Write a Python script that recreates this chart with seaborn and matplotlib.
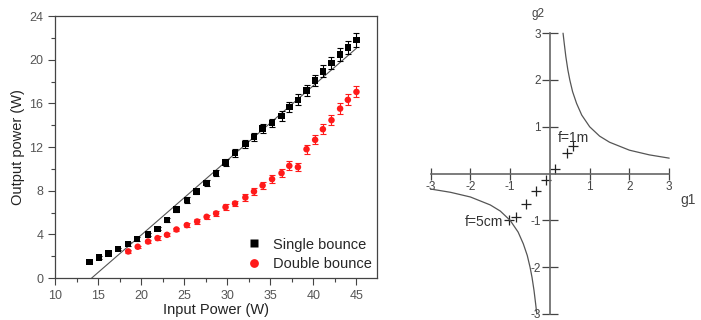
import numpy as np
import pandas as pd
import matplotlib
matplotlib.use('Agg')
import matplotlib.pyplot as plt
import seaborn as sns

# ---- left panel data: output power vs input power ----
single_x = [14.0, 15.1, 16.2, 17.3, 18.5, 19.5, 20.8, 21.9, 23.0, 24.1, 25.3, 26.4, 27.6, 28.7, 29.8,
            30.9, 32.1, 33.1, 34.1, 35.2, 36.3, 37.2, 38.2, 39.2, 40.2, 41.1, 42.1, 43.1, 44.0, 45.0]
single_y = [1.46, 1.89, 2.23, 2.65, 3.11, 3.57, 4.0, 4.51, 5.31, 6.28, 7.14, 7.93, 8.72, 9.61, 10.58,
            11.47, 12.29, 12.93, 13.69, 14.21, 14.85, 15.65, 16.32, 17.2, 18.08, 18.94, 19.7, 20.49, 21.1, 21.8]
single_err = [0.1, 0.1, 0.1, 0.1, 0.15, 0.15, 0.15, 0.15, 0.2, 0.2, 0.25, 0.25, 0.3, 0.3, 0.3,
              0.35, 0.35, 0.4, 0.4, 0.4, 0.45, 0.45, 0.5, 0.5, 0.5, 0.55, 0.55, 0.6, 0.6, 0.6]

double_x = [18.5, 19.6, 20.8, 21.9, 23.0, 24.1, 25.3, 26.5, 27.6, 28.7, 29.8, 30.9, 32.1, 33.1,
            34.1, 35.2, 36.3, 37.2, 38.2, 39.2, 40.2, 41.1, 42.1, 43.1, 44.0, 45.0]
double_y = [2.44, 2.87, 3.35, 3.66, 3.96, 4.45, 4.85, 5.18, 5.61, 5.92, 6.5, 6.83, 7.38, 7.93,
            8.48, 9.06, 9.61, 10.28, 10.16, 11.8, 12.66, 13.63, 14.46, 15.52, 16.32, 17.05]
double_err = [0.1, 0.1, 0.15, 0.15, 0.15, 0.15, 0.2, 0.2, 0.2, 0.25, 0.25, 0.25, 0.3, 0.3,
              0.3, 0.35, 0.35, 0.4, 0.35, 0.4, 0.4, 0.45, 0.45, 0.5, 0.5, 0.5]

fit_x = [14.25, 45.0]
fit_y = [0.0, 21.05]

# ---- right panel data: g1-g2 stability diagram ----
upper_g1 = [0.33, 0.36, 0.4, 0.45, 0.5, 0.57, 0.67, 0.8, 1.0, 1.25, 1.5, 2.0, 2.5, 3.0]
upper_g2 = [3.0, 2.78, 2.5, 2.22, 2.0, 1.75, 1.5, 1.25, 1.0, 0.8, 0.67, 0.5, 0.4, 0.33]
lower_g1 = [-3.0, -2.5, -2.0, -1.5, -1.25, -1.0, -0.8, -0.67, -0.57, -0.5, -0.45, -0.4, -0.36, -0.33]
lower_g2 = [-0.33, -0.4, -0.5, -0.67, -0.8, -1.0, -1.25, -1.5, -1.75, -2.0, -2.22, -2.5, -2.78, -3.0]
meas_g1 = [0.59, 0.44, 0.13, -0.11, -0.36, -0.6, -0.85, -1.03]
meas_g2 = [0.59, 0.43, 0.09, -0.14, -0.38, -0.64, -0.93, -1.0]
g_ticks = [-3, -2, -1, 1, 2, 3]

sns.set_style('white')
plt.rcParams['font.family'] = ['Liberation Sans', 'DejaVu Sans']

fig = plt.figure(figsize=(7.01, 3.2), dpi=100)

# ---------------- left panel ----------------
ax = fig.add_axes([0.0785, 0.131, 0.4595, 0.819])
axis_col = '#444444'

df = pd.concat([
    pd.DataFrame({'x': single_x, 'y': single_y, 'err': single_err, 'series': 'Single bounce'}),
    pd.DataFrame({'x': double_x, 'y': double_y, 'err': double_err, 'series': 'Double bounce'}),
])
colors = {'Single bounce': 'black', 'Double bounce': '#ff1a1a'}

ax.plot(fit_x, fit_y, color='#555555', lw=0.8, zorder=1)
for name, sub in df.groupby('series', sort=False):
    ax.errorbar(sub['x'], sub['y'], yerr=sub['err'], fmt='none', ecolor=colors[name],
                elinewidth=0.8, capsize=2.5, capthick=0.8, zorder=2)
sns.scatterplot(data=df, x='x', y='y', hue='series', style='series', palette=colors,
                markers={'Single bounce': 's', 'Double bounce': 'o'}, s=22,
                edgecolor='none', ax=ax, zorder=3)

ax.set_xlim(10, 47.4)
ax.set_ylim(0, 24)
ax.set_xticks(range(10, 50, 5))
ax.set_xticks(np.arange(12.5, 47, 5), minor=True)
ax.set_yticks(range(0, 25, 4))
ax.set_yticks(range(2, 24, 4), minor=True)
ax.tick_params(which='major', direction='out', length=5, width=0.8, color=axis_col,
               labelsize=9, labelcolor='#555555', bottom=True, left=True, top=False, right=False)
ax.tick_params(which='minor', direction='out', length=3, width=0.8, color=axis_col,
               bottom=True, left=True)
for sp in ax.spines.values():
    sp.set_color(axis_col)
    sp.set_linewidth(0.9)
ax.set_xlabel('Input Power (W)', fontsize=10.5, color='#222222', labelpad=1)
ax.set_ylabel('Output power (W)', fontsize=10.5, color='#222222', labelpad=3)

leg = ax.legend(loc='lower right', bbox_to_anchor=(1.01, -0.005), frameon=False, fontsize=10.5,
                handletextpad=0.3, labelspacing=0.35, markerscale=1.35, borderaxespad=0.2)

# ---------------- right panel ----------------
bx = fig.add_axes([0.603, 0.0115, 0.363, 0.914])
line_col = '#555555'
sns.lineplot(x=upper_g1, y=upper_g2, sort=False, color=line_col, lw=0.9, ax=bx)
sns.lineplot(x=lower_g1, y=lower_g2, sort=False, color=line_col, lw=0.9, ax=bx)
sns.scatterplot(x=meas_g1, y=meas_g2, marker='+', s=55, color='#222222', linewidth=0.9, ax=bx)

bx.set_xlim(-3.2, 3.2)
bx.set_ylim(-3.05, 3.2)
for side in ['top', 'right']:
    bx.spines[side].set_visible(False)
bx.spines['left'].set_position(('data', 0))
bx.spines['bottom'].set_position(('data', 0))
bx.spines['left'].set_bounds(-3, 3)
bx.spines['bottom'].set_bounds(-3, 3)
for side in ['left', 'bottom']:
    bx.spines[side].set_color('#666666')
    bx.spines[side].set_linewidth(1.2)
bx.set_xticks(g_ticks)
bx.set_yticks(g_ticks)
bx.set_xticklabels([str(t) for t in g_ticks])
bx.set_yticklabels([str(t) for t in g_ticks])
bx.tick_params(axis='x', direction='inout', length=8, width=0.9, color='#444444',
               labelsize=8.5, labelcolor='#444444', pad=1, bottom=True)
bx.tick_params(axis='y', direction='inout', length=11, width=0.9, color='#444444',
               labelsize=8.5, labelcolor='#444444', pad=1, left=True)
bx.set_xlabel('')
bx.set_ylabel('')

bx.text(-0.3, 3.42, 'g2', fontsize=8.5, color='#444444', ha='center', va='center')
bx.text(3.47, -0.57, 'g1', fontsize=10, color='#444444', ha='center', va='center')
bx.text(0.19, 0.77, 'f=1m', fontsize=10, color='#333333', ha='left', va='center')
bx.text(-2.13, -1.03, 'f=5cm', fontsize=10, color='#333333', ha='left', va='center')

fig.savefig('out.png', dpi=100, facecolor='white')
